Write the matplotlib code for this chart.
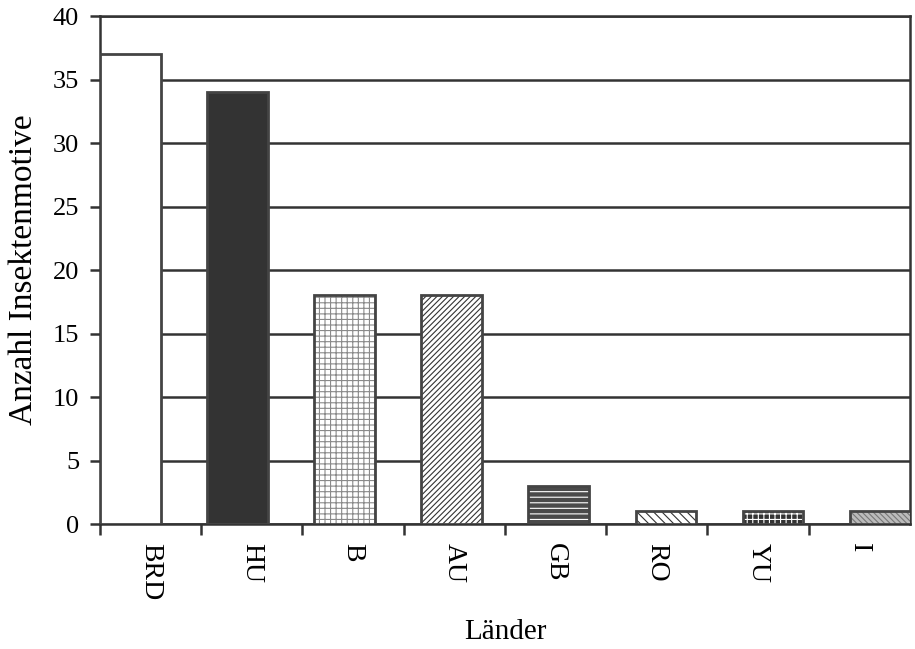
import matplotlib.pyplot as plt
import numpy as np

plt.rcParams['font.family'] = ['Liberation Serif', 'DejaVu Serif']
plt.rcParams['hatch.linewidth'] = 0.8

# data
laender = ['BRD', 'HU', 'B', 'AU', 'GB', 'RO', 'YU', 'I']
anzahl = [37, 34, 18, 18, 3, 1, 1, 1]

faces = ['white', '#333333', 'white', 'white', '#4a4a4a', 'white', '#333333', '#bbbbbb']
hatches = [None, None, '+++', '//////', '---', '\\\\\\\\', '+++', '\\\\\\\\\\\\']
hatch_cols = ['#444444', '#444444', '#8a8a8a', '#333333', 'white', '#333333', 'white', '#777777']

fig = plt.figure(figsize=(9.15, 6.49), dpi=100)
ax = fig.add_axes([0.1093, 0.1926, 0.8852, 0.7827])

x = np.arange(len(laender))
# bars in the scan sit on a slightly wider step than the category ticks
bar_left = -0.5 + x * 1.058
for i in range(len(laender)):
    ax.bar(bar_left[i], anzahl[i], width=0.6, align='edge', color=faces[i],
           edgecolor=hatch_cols[i], hatch=hatches[i], linewidth=0, zorder=3)
    ax.bar(bar_left[i], anzahl[i], width=0.6, align='edge', fill=False,
           edgecolor='#444444', linewidth=2, zorder=4)

ax.set_xlim(-0.5, 7.5)
ax.set_ylim(0, 40)
ax.set_yticks(np.arange(0, 41, 5))
ax.yaxis.grid(True, color='#333333', linewidth=1.8, zorder=1)
ax.set_axisbelow(True)

ax.set_xticks(x - 0.5, minor=False)
ax.set_xticklabels([])
ax.set_xticks(x, minor=True)
ax.set_xticklabels(laender, minor=True, rotation=270, fontsize=20)
ax.tick_params(axis='x', which='major', length=8, width=1.8, color='#333333', direction='out')
ax.tick_params(axis='x', which='minor', length=0, pad=14)
ax.tick_params(axis='y', length=7, width=1.8, color='#333333', labelsize=19, pad=8)

for s in ax.spines.values():
    s.set_color('#333333')
    s.set_linewidth(1.8)

ax.set_ylabel('Anzahl Insektenmotive', fontsize=24, labelpad=10)
ax.set_xlabel('Länder', fontsize=21, labelpad=13)

fig.savefig('out.png', dpi=100)
